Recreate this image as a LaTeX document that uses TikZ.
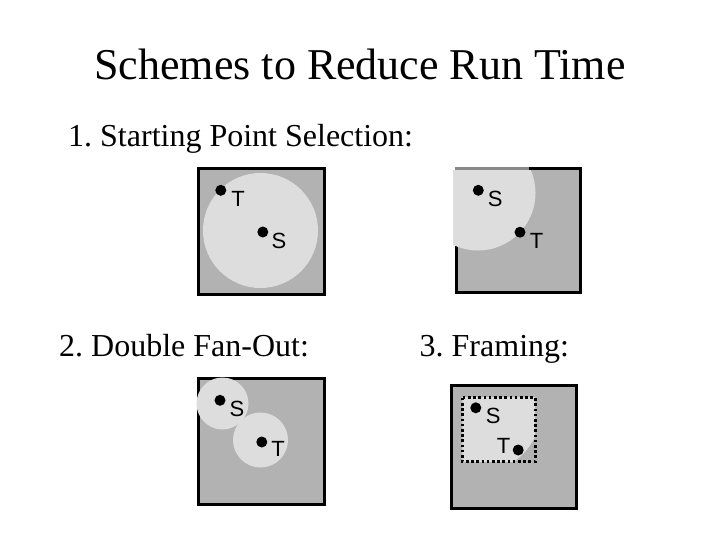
\documentclass[tikz,border=0pt]{standalone}
\usepackage{fontspec}
\setmainfont{Liberation Serif}
\newfontfamily\labelfont{Liberation Sans}
\definecolor{boxgrey}{RGB}{178,178,178}
\definecolor{lightgrey}{RGB}{221,221,221}
\definecolor{midgrey}{RGB}{136,136,136}
\frenchspacing
\begin{document}
\begin{tikzpicture}[x=1pt,y=-1pt,
  panel/.style={draw=black,line width=3pt,fill=boxgrey},
  reach/.style={fill=lightgrey},
  pt/.style={circle,fill=black,inner sep=0pt,minimum size=11pt},
  lbl/.style={inner sep=0pt,font=\labelfont\fontsize{22}{24}\selectfont},
  heading/.style={inner sep=0pt,font=\frenchspacing\fontsize{32}{36}\selectfont,anchor=base west},
  titletext/.style={inner sep=0pt,font=\fontsize{44}{50}\selectfont,anchor=base}]
\useasboundingbox (0,0) rectangle (720,540);
\fill[white] (0,0) rectangle (720,540);

% titles
\node[titletext] (title) at (360,80) {Schemes to Reduce Run Time};
\node[heading] (h1) at (68,147) {1.\ Starting Point Selection:};
\node[heading] (h2) at (59,356) {2.\ Double Fan-Out:};
\node[heading] (h3) at (419.5,356) {3.\ Framing:};

% panel 1
\draw[panel] (198.3,168.3) rectangle (324.7,294);
\fill[reach] (260.5,230.5) circle[radius=57.5pt];
\node[pt] (t1) at (220.8,190.3) {};
\node[lbl] (t1l) at (238,198.8) {T};
\node[pt] (s1) at (262.8,232) {};
\node[lbl] (s1l) at (279,240.8) {S};

% panel 2
\draw[panel] (456,168.7) rectangle (580,292.7);
\begin{scope}
  \clip (453,170.2) rectangle (582,295);
  \fill[reach] (478,193) circle[radius=57.5pt];
\end{scope}
\draw[midgrey,line width=3pt] (454.5,168.7) -- (529,168.7);
\node[pt] (s2) at (478.3,190.3) {};
\node[lbl] (s2l) at (495.3,198.8) {S};
\node[pt] (t2) at (520,232.2) {};
\node[lbl] (t2l) at (536.7,240.5) {T};

% panel 3
\draw[panel] (198.3,378.3) rectangle (324,504.7);
\fill[reach] (222.5,403.5) circle[radius=26pt];
\fill[reach] (260.5,440) circle[radius=27.5pt];
\node[pt] (s3) at (220,400.3) {};
\node[lbl] (s3l) at (237,408.8) {S};
\node[pt] (t3) at (261.8,442) {};
\node[lbl] (t3l) at (278,448.7) {T};

% panel 4
\draw[panel] (451,385) rectangle (576,508);
\begin{scope}
  \clip (462.3,397.7) rectangle (535,461.7);
  \fill[reach] (475.8,407.8) circle[radius=66pt];
\end{scope}
\draw[black,line width=3pt,dash pattern=on 2.6pt off 2.6pt] (462.3,397.7) rectangle (535,461.7);
\node[pt] (s4) at (475.8,407.8) {};
\node[lbl] (s4l) at (493.3,416.3) {S};
\node[pt] (t4) at (518.2,450) {};
\node[lbl] (t4l) at (503.7,446.3) {T};
\end{tikzpicture}
\end{document}
